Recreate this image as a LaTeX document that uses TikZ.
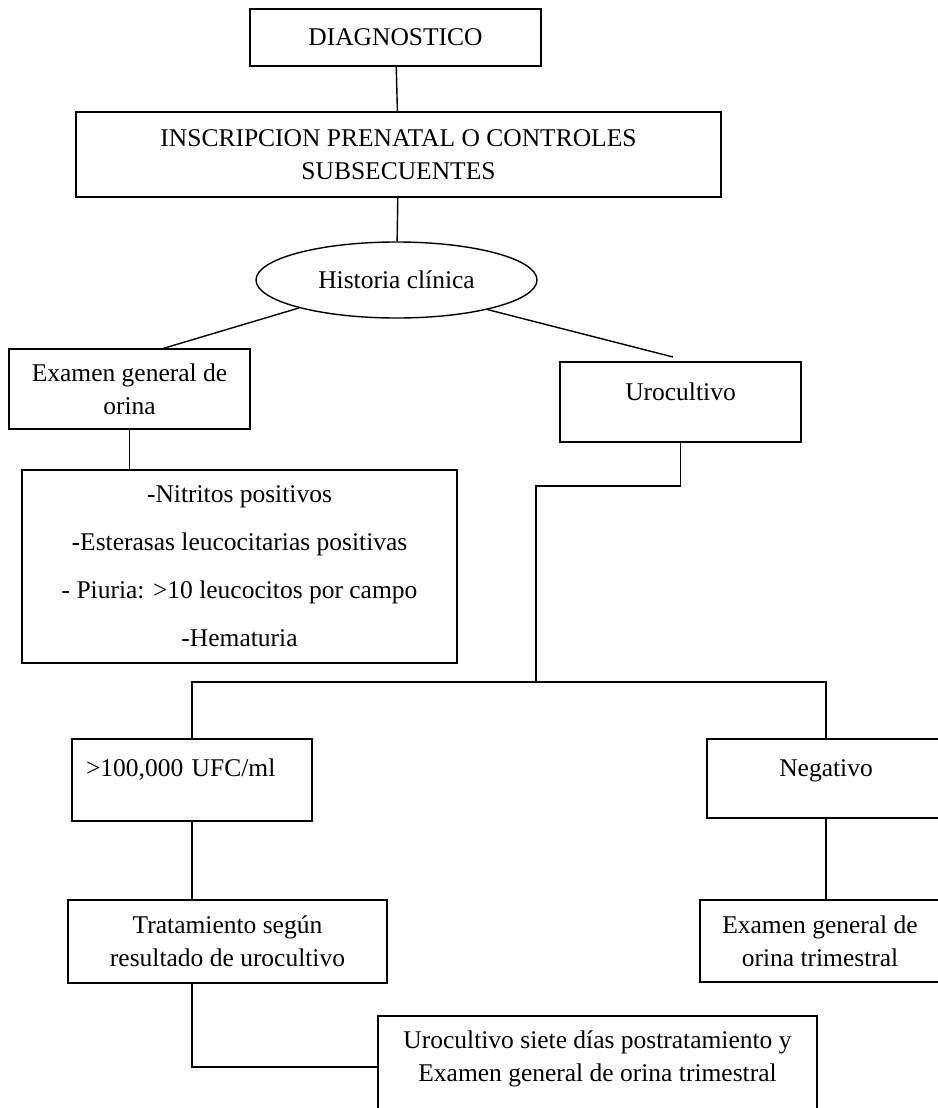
\documentclass[tikz,border=0pt]{standalone}
\usepackage{fontspec}
\setmainfont{Liberation Serif}
\usetikzlibrary{shapes.geometric}

\begin{document}
\begin{tikzpicture}
  [x=1pt,y=-1pt,line width=1.4pt,
   every node/.style={draw,rectangle,align=center,inner sep=0pt,
                      font=\fontsize{25.5}{33}\selectfont},
   oval/.style={ellipse}]
  \useasboundingbox (0,0) rectangle (937,1108);
  \node[minimum width=291pt,minimum height=57pt] (diag) at (395.5,37.5) {DIAGNOSTICO};
  \node[minimum width=645pt,minimum height=85pt] (insc) at (398.5,154.5)
    {INSCRIPCION PRENATAL O CONTROLES\\SUBSECUENTES};
  \node[oval,minimum width=281pt,minimum height=76pt] (hist) at (396.5,280) {Historia clínica};
  \node[minimum width=241pt,minimum height=80pt] (egen) at (129.5,389) {Examen general de\\orina};
  \node[minimum width=241pt,minimum height=80pt,text depth=20pt] (uro) at (680.5,402) {Urocultivo};
  \node[minimum width=435pt,minimum height=193pt,font=\fontsize{25.5}{48}\selectfont] (nitr) at (239.5,566.5)
    {-Nitritos positivos\\-Esterasas leucocitarias positivas\\- Piuria: >10 leucocitos por campo\\-Hematuria};
  \node[minimum width=240pt,minimum height=82pt,text width=212pt,inner xsep=14pt,align=left,
        text depth=24pt] (ufc) at (192,780) {>100,000 UFC/ml};
  \node[minimum width=238pt,minimum height=79pt,text depth=21pt] (neg) at (826,778.5) {Negativo};
  \node[minimum width=319pt,minimum height=83pt] (trat) at (227.5,941.5)
    {Tratamiento según\\resultado de urocultivo};
  \node[minimum width=240pt,minimum height=82pt] (egot) at (820,941) {Examen general de\\orina trimestral};
  \node[minimum width=439pt,minimum height=102pt,text depth=22pt] (uros) at (597.5,1067)
    {Urocultivo siete días postratamiento y\\Examen general de orina trimestral};
  \coordinate (ue) at (673,357);
  \coordinate (mid) at (536,486);
  \coordinate (bus) at (536,682);
  \foreach \from/\to in {diag/insc,insc/hist,hist.196/egen.50,hist.342/ue}
    \draw (\from) -- (\to);
  \draw (egen.south) -- (egen.south |- nitr.north);
  \draw (uro.south) |- (mid) -- (bus);
  \draw (ufc.north) |- (bus) -| (neg.north);
  \draw (ufc.south) -- (ufc.south |- trat.north);
  \draw (neg.south) -- (neg.south |- egot.north);
  \draw (ufc.south |- trat.south) |- (uros.west);
\end{tikzpicture}
\end{document}
